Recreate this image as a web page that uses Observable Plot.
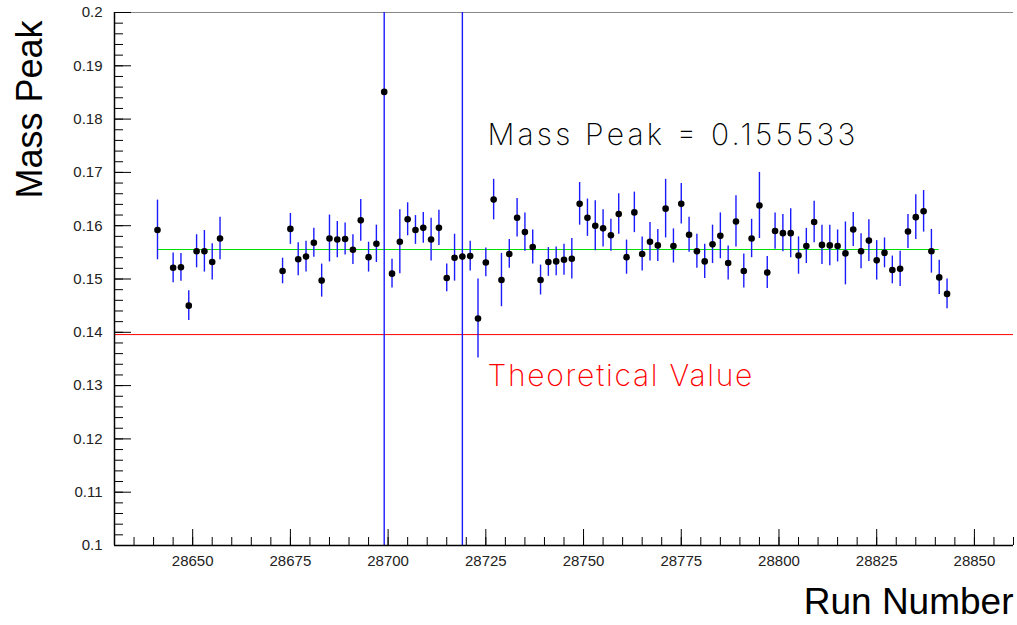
<!DOCTYPE html>
<html><head><meta charset="utf-8">
<script src="https://cdn.jsdelivr.net/npm/d3@7"></script>
<script src="https://cdn.jsdelivr.net/npm/@observablehq/plot@0.6"></script>
<style>body{margin:0;background:#fff;} #chart{width:1017px;height:625px;}</style>
</head><body><div id="chart"></div>
<script>
const runs = [28641,28645,28647,28649,28651,28653,28655,28657,
28673,28675,28677,28679,28681,28683,28685,28687,28689,28691,28693,28695,28697,28699,
28701,28703,28705,28707,28709,28711,28713,28715,28717,28719,28721,28723,28725,28727,28729,
28731,28733,28735,28737,28739,28741,28743,28745,28747,28749,28751,28753,28755,28757,28759,
28761,28763,28765,28767,28769,28771,28773,28775,28777,28779,28781,28783,28785,28787,28789,
28791,28793,28795,28797,28799,28801,28803,28805,28807,28809,28811,28813,28815,28817,28819,
28821,28823,28825,28827,28829,28831,28833,28835,28837,28839,28841,28843];
const massPeak = [0.1592,0.1521,0.1522,0.1450,0.1552,0.1552,0.1532,0.1576,
0.1515,0.1594,0.1537,0.1542,0.1568,0.1497,0.1576,0.1574,0.1575,0.1555,0.1610,0.1541,0.1566,0.1851,
0.1510,0.1570,0.1612,0.1592,0.1596,0.1574,0.1596,0.1502,0.1540,0.1542,0.1543,0.1426,0.1531,0.1649,0.1498,
0.1547,0.1615,0.1588,0.1560,0.1498,0.1532,0.1533,0.1536,0.1538,0.1641,0.1615,0.1600,0.1595,0.1582,0.1622,
0.1541,0.1625,0.1547,0.1570,0.1563,0.1632,0.1562,0.1641,0.1583,0.1552,0.1533,0.1565,0.1581,0.1530,0.1608,
0.1515,0.1576,0.1638,0.1512,0.1590,0.1586,0.1586,0.1544,0.1562,0.1607,0.1564,0.1563,0.1562,0.1548,0.1593,
0.1552,0.1572,0.1535,0.1549,0.1517,0.1519,0.1589,0.1616,0.1627,0.1552,0.1503,0.1472];
const massErr = [0.0056,0.0028,0.0026,0.0028,0.0031,0.0039,0.0034,0.0040,
0.0024,0.0029,0.0031,0.0029,0.0027,0.0031,0.0044,0.0034,0.0030,0.0028,0.0039,0.0028,0.0035,0.0900,
0.0027,0.0060,0.0031,0.0027,0.0029,0.0040,0.0033,0.0026,0.0044,0.0600,0.0028,0.0074,0.0027,0.0038,0.0050,
0.0027,0.0036,0.0036,0.0032,0.0028,0.0027,0.0027,0.0029,0.0038,0.0040,0.0035,0.0047,0.0035,0.0030,0.0038,
0.0032,0.0038,0.0032,0.0036,0.0030,0.0055,0.0032,0.0038,0.0033,0.0032,0.0032,0.0036,0.0043,0.0032,0.0048,
0.0032,0.0036,0.0062,0.0030,0.0034,0.0035,0.0046,0.0035,0.0033,0.0039,0.0037,0.0038,0.0030,0.0059,0.0032,
0.0033,0.0039,0.0037,0.0028,0.0026,0.0033,0.0032,0.0042,0.0039,0.0041,0.0032,0.0028];
const fitMean = 0.155533;
const fitRange = [28641, 28841];
const theoretical = 0.13957;
const xTicks = [28650,28675,28700,28725,28750,28775,28800,28825,28850];
const yTicks = [0.1,0.11,0.12,0.13,0.14,0.15,0.16,0.17,0.18,0.19,0.2];
const xMinorTicks = d3.range(28630, 28861, 5);
const yMinorTicks = d3.range(0, 51).map(i => 0.1 + i * 0.002);
const annotations = [
  {text: "Mass Peak = 0.155533", run: 28725.4, value: 0.1770, color: "#000000"},
  {text: "Theoretical Value", run: 28725.4, value: 0.1318, color: "#ff0000"}
];
const annotationWidths = [368, 265];

const xDomain = [28630, 28860];
const yDomain = [0.1, 0.2];
const data = runs.map((r, i) => ({run: r, v: massPeak[i], e: massErr[i]}));
const W = 1017, H = 625, mL = 114, mR = 4, mT = 12, mB = 80;
const fw = W - mL - mR, fh = H - mT - mB;

const chart = Plot.plot({
  width: W, height: H,
  marginLeft: mL, marginRight: mR, marginTop: mT, marginBottom: mB,
  x: {domain: xDomain, axis: null},
  y: {domain: yDomain, axis: null},
  style: {fontFamily: "'Liberation Sans', Arial, sans-serif", fontSize: "15px", color: "#000", background: "#fff", overflow: "visible"},
  marks: [
    Plot.ruleY([yDomain[1]], {stroke: "#888", strokeWidth: 1}),
    Plot.ruleY([theoretical], {stroke: "#ff0000", strokeWidth: 1}),
    Plot.ruleY([fitMean], {x1: fitRange[0], x2: fitRange[1], stroke: "#00e000", strokeWidth: 1}),
    Plot.ruleX(data, {x: "run", y1: d => Math.max(d.v - d.e, yDomain[0]), y2: d => Math.min(d.v + d.e, yDomain[1]), stroke: "#1a1aff", strokeWidth: 1.4}),
    Plot.dot(data, {x: "run", y: "v", r: 3.3, fill: "#000", stroke: "none"}),
    Plot.ruleX(xTicks, {insetTop: fh - 16, stroke: "#000"}),
    Plot.ruleX(xMinorTicks, {insetTop: fh - 8, stroke: "#000"}),
    Plot.ruleY(yTicks, {insetRight: fw - 17, stroke: "#000"}),
    Plot.ruleY(yMinorTicks, {insetRight: fw - 9, stroke: "#000"}),
    Plot.ruleY([yDomain[0]], {stroke: "#000", strokeWidth: 1.5}),
    Plot.ruleX([xDomain[0]], {stroke: "#000", strokeWidth: 1.5}),
    Plot.axisX(xTicks, {tickSize: 0, tickPadding: 10, tickFormat: d => String(d), fill: "#222", label: null}),
    Plot.axisY(yTicks, {tickSize: 0, tickPadding: 12, tickFormat: d => String(+d.toFixed(2)), fill: "#222", label: null}),
    Plot.text(["Mass Peak"], {frameAnchor: "top-left", rotate: -90, textAnchor: "end", dx: -98, dy: 8, fontSize: 36, fill: "#000"}),
    Plot.text(["Run Number"], {frameAnchor: "bottom-right", textAnchor: "end", dy: 68, fontSize: 37, fill: "#000"}),
    Plot.text(annotations, {x: "run", y: "value", text: "text", fill: "color", textAnchor: "start", fontSize: 30, fontFamily: "Inter, Lato, sans-serif", fontWeight: 200})
  ]
});
d3.select(chart).selectAll("text").each(function() {
  const i = annotations.findIndex(a => a.text === this.textContent);
  if (i >= 0) {
    this.setAttribute("textLength", annotationWidths[i]);
    this.setAttribute("lengthAdjust", "spacing");
  }
});
document.getElementById("chart").appendChild(chart);
</script>
</body></html>
